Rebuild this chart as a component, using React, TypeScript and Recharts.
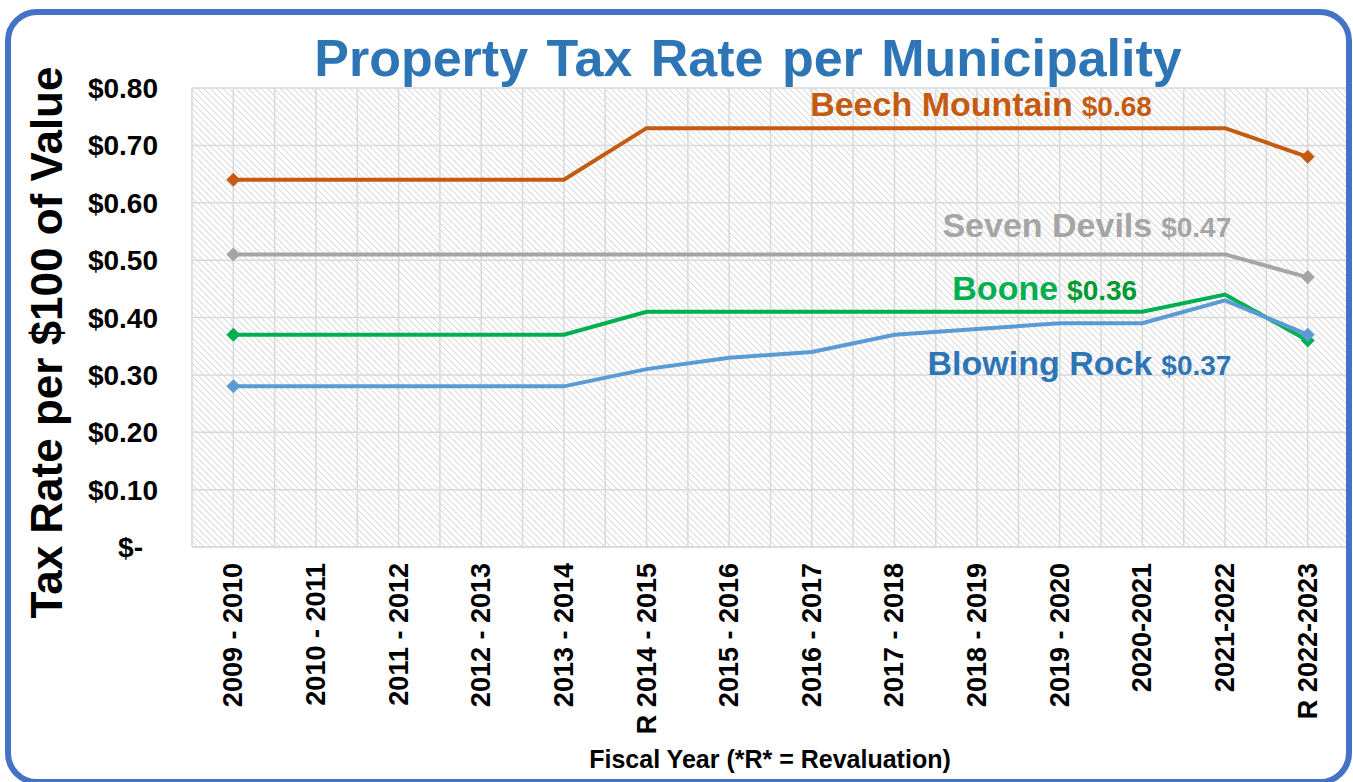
import React from "react";
import { CartesianGrid, Line, LineChart, ReferenceDot, XAxis, YAxis } from "recharts";

const years = [
  "2009 - 2010",
  "2010 - 2011",
  "2011 - 2012",
  "2012 - 2013",
  "2013 - 2014",
  "R 2014 - 2015",
  "2015 - 2016",
  "2016 - 2017",
  "2017 - 2018",
  "2018 - 2019",
  "2019 - 2020",
  "2020-2021",
  "2021-2022",
  "R 2022-2023",
];
const beechMountain = [0.64, 0.64, 0.64, 0.64, 0.64, 0.73, 0.73, 0.73, 0.73, 0.73, 0.73, 0.73, 0.73, 0.68];
const sevenDevils = [0.51, 0.51, 0.51, 0.51, 0.51, 0.51, 0.51, 0.51, 0.51, 0.51, 0.51, 0.51, 0.51, 0.47];
const boone = [0.37, 0.37, 0.37, 0.37, 0.37, 0.41, 0.41, 0.41, 0.41, 0.41, 0.41, 0.41, 0.44, 0.36];
const blowingRock = [0.28, 0.28, 0.28, 0.28, 0.28, 0.31, 0.33, 0.34, 0.37, 0.38, 0.39, 0.39, 0.43, 0.37];
const yTicks = [0, 0.1, 0.2, 0.3, 0.4, 0.5, 0.6, 0.7, 0.8];

const FONT = '"Liberation Sans", Arial, sans-serif';

const data = years.map((year, i) => ({
  idx: i,
  year,
  beech: beechMountain[i],
  seven: sevenDevils[i],
  boone: boone[i],
  blowing: blowingRock[i],
}));

const last = years.length - 1;
const xTicks = years.map((_, i) => i);
// gridlines sit on every category and halfway between them
const gridTicks = years.flatMap((_, i) => [i - 0.5, i]).concat(last + 0.5);

const series = [
  { key: "beech", name: "Beech Mountain", values: beechMountain, line: "#C55A11", text: "#C55A11", valueText: "#C55A11" },
  { key: "seven", name: "Seven Devils", values: sevenDevils, line: "#A5A5A5", text: "#A5A5A5", valueText: "#A5A5A5" },
  { key: "boone", name: "Boone", values: boone, line: "#00B050", text: "#00B050", valueText: "#009A30" },
  { key: "blowing", name: "Blowing Rock", values: blowingRock, line: "#5B9BD5", text: "#2E75B6", valueText: "#2E75B6" },
];

// where each name tag starts (x in category units, y in tax rate units)
const tagPlaces: Record<string, { x: number; y: number }> = {
  beech: { x: 6.98, y: 0.751 },
  seven: { x: 8.58, y: 0.54 },
  boone: { x: 8.7, y: 0.43 },
  blowing: { x: 8.4, y: 0.3 },
};

const money = (v: number) => (v === 0 ? "$-" : `$${v.toFixed(2)}`);

const endDot = (color: string) => (props: any) => {
  const { cx, cy, index } = props;
  if (index !== 0 && index !== last) return <g key={`d${index}`} />;
  const s = 7;
  return (
    <polygon
      key={`d${index}`}
      points={`${cx},${cy - s} ${cx + s},${cy} ${cx},${cy + s} ${cx - s},${cy}`}
      fill={color}
    />
  );
};

const XTick = (props: any) => {
  const { x, y, payload } = props;
  const tx = x + 9;
  const ty = y + 8;
  return (
    <text
      x={tx}
      y={ty}
      transform={`rotate(-90, ${tx}, ${ty})`}
      textAnchor="end"
      fontFamily={FONT}
      fontWeight="bold"
      fontSize={27}
      fill="#000"
    >
      {years[payload.value]}
    </text>
  );
};

const YTick = (props: any) => {
  const { x, y, payload } = props;
  return (
    <text
      x={payload.value === 0 ? x - 41 : x - 26}
      y={y}
      dy={10}
      textAnchor="end"
      fontFamily={FONT}
      fontWeight="bold"
      fontSize={28}
      fill="#000"
    >
      {money(payload.value)}
    </text>
  );
};

export default function App() {
  return (
    <div style={{ position: "absolute", left: 0, top: 0, width: 1353, height: 782, background: "#fff", fontFamily: FONT }}>
      <div
        style={{
          position: "absolute",
          left: 0,
          top: 28,
          width: 1496,
          textAlign: "center",
          fontSize: 52,
          fontWeight: "bold",
          color: "#2E75B6",
          lineHeight: "60px",
          wordSpacing: 4,
        }}
      >
        Property Tax Rate per Municipality
      </div>
      <LineChart width={1353} height={782} data={data} margin={{ top: 88, right: 4, bottom: 0, left: 0 }}>
        <defs>
          <pattern id="hatch" width="4.5" height="4.5" patternUnits="userSpaceOnUse" patternTransform="rotate(-45)">
            <rect width="4.5" height="4.5" fill="#ffffff" />
            <line x1="0" y1="0" x2="0" y2="4.5" stroke="#c8c8c8" strokeWidth="1.3" />
          </pattern>
        </defs>
        <CartesianGrid
          xAxisId="grid"
          stroke="#D9D9D9"
          strokeWidth={1.5}
          fill="url(#hatch)"
          fillOpacity={1}
        />
        <XAxis
          xAxisId="grid"
          dataKey="idx"
          type="number"
          domain={[-0.5, last + 0.5]}
          ticks={gridTicks}
          interval={0}
          hide
        />
        <XAxis
          dataKey="idx"
          type="number"
          domain={[-0.5, last + 0.5]}
          ticks={xTicks}
          interval={0}
          height={235}
          axisLine={{ stroke: "#D9D9D9", strokeWidth: 1.5 }}
          tickLine={false}
          tick={<XTick />}
          label={(p: any) => {
            const vb = p.viewBox;
            return (
              <text
                x={770}
                y={vb.y + 221}
                textAnchor="middle"
                fontFamily={FONT}
                fontWeight="bold"
                fontSize={25}
                fill="#000"
              >
                Fiscal Year (*R* = Revaluation)
              </text>
            );
          }}
        />
        <YAxis
          width={192}
          domain={[0, 0.8]}
          ticks={yTicks}
          interval={0}
          axisLine={false}
          tickLine={false}
          tick={<YTick />}
          label={(p: any) => {
            const vb = p.viewBox;
            const lx = 62;
            const ly = vb.y + vb.height / 2 + 25;
            return (
              <text
                x={lx}
                y={ly}
                transform={`rotate(-90, ${lx}, ${ly})`}
                textAnchor="middle"
                fontFamily={FONT}
                fontWeight="bold"
                fontSize={44}
                fill="#000"
              >
                Tax Rate per $100 of Value
              </text>
            );
          }}
        />
        {series.map((s) => (
          <Line
            key={s.key}
            dataKey={s.key}
            stroke={s.line}
            strokeWidth={4}
            dot={endDot(s.line)}
            activeDot={false}
            isAnimationActive={false}
          />
        ))}
        {series.map((s) => (
          <ReferenceDot
            key={`tag-${s.key}`}
            x={tagPlaces[s.key].x}
            y={tagPlaces[s.key].y}
            r={0}
            ifOverflow="visible"
            shape={(p: any) => (
              <text x={p.cx} y={p.cy} fontFamily={FONT} fontWeight="bold" fill={s.text}>
                <tspan fontSize={34}>{s.name}</tspan>
                <tspan dx={9} fontSize={28} fill={s.valueText}>
                  {money(s.values[last])}
                </tspan>
              </text>
            )}
          />
        ))}
      </LineChart>
      <div
        style={{
          position: "absolute",
          left: 5,
          top: 9,
          width: 1347,
          height: 776,
          boxSizing: "border-box",
          border: "6px solid #4472C4",
          borderRadius: 32,
          pointerEvents: "none",
        }}
      />
    </div>
  );
}
